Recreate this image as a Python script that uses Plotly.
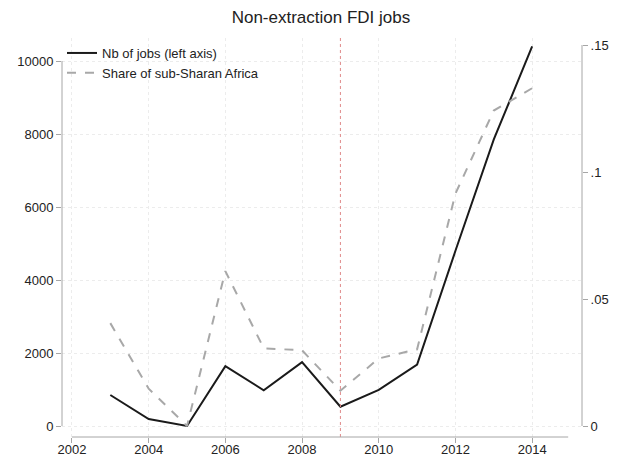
import plotly.graph_objects as go

years = [2003, 2004, 2005, 2006, 2007, 2008, 2009, 2010, 2011, 2012, 2013, 2014]
jobs = [850, 190, 0, 1640, 980, 1750, 530, 990, 1680, 4800, 7850, 10400]
share = [0.0405, 0.0147, 0.0, 0.061, 0.0306, 0.0298, 0.0139, 0.0266, 0.0302, 0.0915, 0.1242, 0.1330]

left_ticks = [0, 2000, 4000, 6000, 8000, 10000]
left_labels = ["0", "2000", "4000", "6000", "8000", "10000"]
right_ticks = [0, 0.05, 0.1, 0.15]
right_labels = ["0", ".05", ".1", ".15"]
x_ticks = [2002, 2004, 2006, 2008, 2010, 2012, 2014]
event_year = 2009

FONT = "Liberation Sans, Arial, sans-serif"
AXIS_COLOR = "#a6a6a6"
GRID_COLOR = "#ececec"

fig = go.Figure()
fig.add_trace(go.Scatter(x=years, y=jobs, mode="lines", name="Nb of jobs (left axis)",
                         line=dict(color="#1a1a1a", width=2), yaxis="y"))
fig.add_trace(go.Scatter(x=years, y=share, mode="lines", name="Share of sub-Sharan Africa",
                         line=dict(color="#a8a8a8", width=2, dash="dash"), yaxis="y2"))

fig.add_vline(x=event_year, line=dict(color="#e08a8a", width=1, dash="dot"))

# axis lines (Stata style, spanning ticks only)
fig.add_shape(type="line", xref="paper", yref="y", x0=0, x1=0, y0=left_ticks[0], y1=left_ticks[-1],
              line=dict(color=AXIS_COLOR, width=1))
fig.add_shape(type="line", xref="paper", yref="y2", x0=1, x1=1, y0=right_ticks[0], y1=right_ticks[-1],
              line=dict(color=AXIS_COLOR, width=1))
fig.add_shape(type="line", xref="x", yref="paper", x0=x_ticks[0], x1=2014.94, y0=0, y1=0,
              line=dict(color=AXIS_COLOR, width=1))

fig.update_layout(
    width=622, height=460,
    margin=dict(l=62, r=40, t=38, b=23),
    paper_bgcolor="white", plot_bgcolor="white",
    font=dict(family=FONT, size=13, color="#222222"),
    title=dict(text="Non-extraction FDI jobs", x=0.516, xanchor="center", xref="container",
               y=0.962, yanchor="middle", font=dict(size=17, color="#222222")),
    showlegend=True,
    legend=dict(x=0.0, y=1.0, xanchor="left", yanchor="top", bgcolor="rgba(0,0,0,0)",
                font=dict(size=13), tracegroupgap=0, itemwidth=30),
    xaxis=dict(range=[2001.74, 2015.30], tickvals=x_ticks, showline=False, zeroline=False,
               showgrid=True, gridcolor=GRID_COLOR, griddash="dot", gridwidth=1, automargin=False,
               ticks="outside", ticklen=5, tickcolor=AXIS_COLOR, tickfont=dict(size=13),
               ticklabelstandoff=-5),
    yaxis=dict(range=[-301, 10630], tickvals=left_ticks, ticktext=left_labels, showline=False,
               zeroline=False, showgrid=True, gridcolor=GRID_COLOR, griddash="dot", gridwidth=1,
               automargin=False, ticks="outside", ticklen=5, tickcolor=AXIS_COLOR,
               tickfont=dict(size=13)),
    yaxis2=dict(range=[-0.00433, 0.15276], tickvals=right_ticks, ticktext=right_labels,
                overlaying="y", side="right", showline=False, zeroline=False, showgrid=False,
                automargin=False, ticks="outside", ticklen=5, tickcolor=AXIS_COLOR,
                tickfont=dict(size=13)),
)

fig.write_html("out.html")
